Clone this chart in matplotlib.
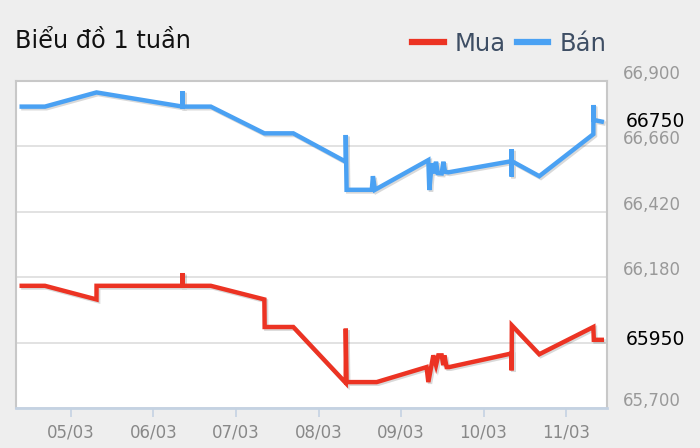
import matplotlib
matplotlib.use("Agg")
import matplotlib.pyplot as plt
import matplotlib.patheffects as pe
from matplotlib.transforms import blended_transform_factory
import pandas as pd

# ban (sell) series, times are dd/mm hh:mm
ban_time = ["04/03 09:40", "04/03 16:25", "05/03 07:25", "06/03 08:28", "06/03 08:29",
            "06/03 08:30", "06/03 16:40", "07/03 08:15", "07/03 16:40", "08/03 07:55",
            "08/03 07:56", "08/03 08:10", "08/03 15:30", "08/03 15:50", "08/03 16:25",
            "09/03 07:57", "09/03 08:14", "09/03 08:56", "09/03 09:36", "09/03 10:11",
            "09/03 10:41", "09/03 11:50", "09/03 12:19", "09/03 12:48", "09/03 13:45",
            "10/03 08:10", "10/03 08:11", "10/03 08:12", "10/03 08:14", "10/03 16:13",
            "11/03 07:57", "11/03 07:58", "11/03 08:05", "11/03 10:24"]
ban_value = [66805, 66805, 66857, 66805, 66862,
             66805, 66805, 66707, 66707, 66603,
             66701, 66500, 66500, 66550, 66500,
             66609, 66499, 66597, 66560, 66603,
             66561, 66560, 66603, 66566, 66564,
             66605, 66649, 66548, 66605, 66550,
             66704, 66811, 66756, 66750]

# mua (buy) series
mua_time = ["04/03 09:40", "04/03 16:25", "05/03 07:25", "05/03 07:26", "06/03 08:28",
            "06/03 08:29", "06/03 08:30", "06/03 16:40", "07/03 08:15", "07/03 08:20",
            "07/03 16:40", "08/03 07:55", "08/03 07:56", "08/03 08:10", "08/03 16:55",
            "09/03 07:26", "09/03 07:57", "09/03 09:24", "09/03 10:11", "09/03 10:51",
            "09/03 11:50", "09/03 12:19", "09/03 12:36", "09/03 13:16", "09/03 14:02",
            "10/03 08:10", "10/03 08:11", "10/03 08:14", "10/03 16:13",
            "11/03 07:57", "11/03 08:05", "11/03 10:24"]
mua_value = [66148, 66148, 66098, 66148, 66148,
             66195, 66148, 66148, 66098, 65997,
             65997, 65792, 65991, 65795, 65795,
             65850, 65795, 65893, 65857, 65893,
             65893, 65857, 65893, 65850, 65850,
             65900, 65838, 66003, 65897,
             65997, 65950, 65950]

y_ticks = [65700, 65940, 66180, 66420, 66660, 66900]
x_ticks = ["05/03", "06/03", "07/03", "08/03", "09/03", "10/03", "11/03"]
last_mua = 65950
last_ban = 66750

def to_dt(lst):
    out = []
    for s in lst:
        d, hm = s.split(" ")
        dd, mm = d.split("/")
        out.append("2024-" + mm + "-" + dd + " " + hm)
    return pd.to_datetime(out)

bt = to_dt(ban_time)
mt = to_dt(mua_time)
xt = to_dt([d + " 00:00" for d in x_ticks])

red = "#ec3323"
blue = "#4aa1f3"

fig = plt.figure(figsize=(7, 4.48), dpi=100, facecolor="#eeeeee")
ax = fig.add_axes([15.7 / 700, 40 / 448, 591 / 700, 327.3 / 448])
ax.set_facecolor("white")

shadow = [pe.SimpleLineShadow(offset=(1.2, -1.2), alpha=0.15, shadow_color="black"), pe.Normal()]
ax.plot(mt, mua_value, color=red, lw=3.2, solid_joinstyle="miter", label="Mua", path_effects=shadow, zorder=3)
ax.plot(bt, ban_value, color=blue, lw=3.2, solid_joinstyle="miter", label="Bán", path_effects=shadow, zorder=3)

ax.set_ylim(65700, 66900)
ax.set_xlim(pd.Timestamp("2024-03-04 07:55"), pd.Timestamp("2024-03-11 11:50"))

ax.set_yticks(y_ticks)
ax.set_yticklabels([])
ax.tick_params(axis="y", length=0)
ax.grid(axis="y", color="#dddddd", lw=1.2)
ax.set_axisbelow(True)

ax.set_xticks(xt)
ax.set_xticklabels(x_ticks)
ax.tick_params(axis="x", length=6.5, width=1.2, color="#c4d2e2", labelcolor="#888888",
               labelsize=12, pad=5)

for s in ["top", "left", "right"]:
    ax.spines[s].set_color("#c8c8c8")
    ax.spines[s].set_linewidth(1.5)
ax.spines["bottom"].set_color("#c4d2e2")
ax.spines["bottom"].set_linewidth(2)

trans = blended_transform_factory(ax.transAxes, ax.transData)
for v in y_ticks:
    if v == 65940:
        continue  # hidden under the last-value label
    ax.annotate(f"{v:,}", xy=(1, v), xycoords=trans, xytext=(16, 7),
                textcoords="offset pixels", ha="left", va="center",
                color="#999999", fontsize=12, annotation_clip=False)
for v in [last_ban, last_mua]:
    ax.annotate(f"{v}", xy=(1, v), xycoords=trans, xytext=(19, 0),
                textcoords="offset pixels", ha="left", va="center",
                color="black", fontsize=13.5, annotation_clip=False)

fig.text(15 / 700, 1 - 48.3 / 448, "Biểu đồ 1 tuần", fontsize=17.3, color="#111111",
         ha="left", va="baseline")

leg = fig.legend(loc="center right", bbox_to_anchor=(606 / 700, 1 - 44 / 448), ncol=2,
                 frameon=False, fontsize=17.5, handlelength=1.3, handletextpad=0.45,
                 columnspacing=0.45, borderpad=0, borderaxespad=0)
for t in leg.get_texts():
    t.set_color("#3e4e64")
for h in leg.legend_handles:
    h.set_linewidth(4.5)
    h.set_path_effects([])

fig.savefig("out.png", dpi=100, facecolor=fig.get_facecolor())
